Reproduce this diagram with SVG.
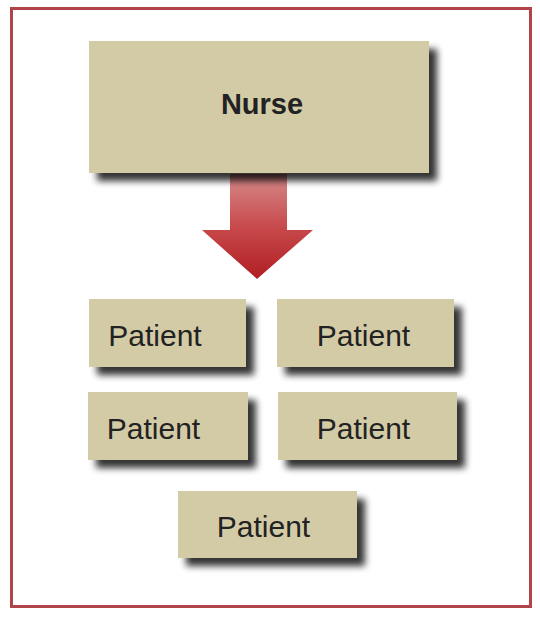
<svg xmlns="http://www.w3.org/2000/svg" width="540" height="619" viewBox="0 0 540 619">
<defs>
<filter id="sh" x="-20%" y="-20%" width="150%" height="170%">
<feGaussianBlur in="SourceAlpha" stdDeviation="3.5"/>
<feOffset dx="8" dy="8" result="b"/>
<feComponentTransfer in="b" result="c"><feFuncA type="linear" slope="0.8"/></feComponentTransfer>
<feMerge><feMergeNode in="c"/><feMergeNode in="SourceGraphic"/></feMerge>
</filter>
<linearGradient id="ag" x1="0" y1="0" x2="0" y2="1">
<stop offset="0" stop-color="#d58a8a"/>
<stop offset="0.5" stop-color="#c84a4c"/>
<stop offset="1" stop-color="#b01e22"/>
</linearGradient>
</defs>
<style>
.box{fill:#d3cba6;filter:url(#sh)}
.t{font-family:"Liberation Sans",Arial,sans-serif;font-size:30px;fill:#222;text-anchor:middle}
.b{font-weight:bold;font-size:29px}
</style>
<rect x="0" y="0" width="540" height="619" fill="#fff"/>
<rect x="11.5" y="8.5" width="519" height="598" fill="#fff" stroke="#b04448" stroke-width="3"/>
<g id="connectors">
<path d="M230,174 L287,174 L287,230 L313,230 L257,279 L202,230 L230,230 Z" fill="url(#ag)"/>
</g>
<g id="nurse">
<rect class="box" x="89" y="41" width="340" height="132"/>
<text class="t b" x="262" y="114">Nurse</text>
</g>
<g id="patient1">
<rect class="box" x="89" y="299" width="157" height="68"/>
<text class="t" x="155" y="346">Patient</text>
</g>
<g id="patient2">
<rect class="box" x="277" y="299" width="177" height="68"/>
<text class="t" x="363.5" y="346">Patient</text>
</g>
<g id="patient3">
<rect class="box" x="88" y="392" width="160" height="68"/>
<text class="t" x="153.5" y="439">Patient</text>
</g>
<g id="patient4">
<rect class="box" x="278" y="392" width="179" height="68"/>
<text class="t" x="363.5" y="439">Patient</text>
</g>
<g id="patient5">
<rect class="box" x="178" y="491" width="179" height="67"/>
<text class="t" x="263.5" y="537">Patient</text>
</g>
</svg>
